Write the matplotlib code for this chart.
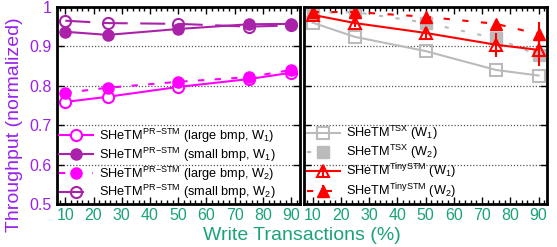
import matplotlib
matplotlib.use('Agg')
import matplotlib.pyplot as plt
import numpy as np

plt.rcParams['font.family'] = ['Liberation Sans', 'DejaVu Sans']
plt.rcParams['mathtext.fontset'] = 'custom'
plt.rcParams['mathtext.rm'] = 'Liberation Sans'

# write transactions (%)
x = [10, 25, 50, 75, 90]

# left panel: PR-STM variants
large_w1 = [0.759, 0.772, 0.797, 0.817, 0.833]
small_w1 = [0.937, 0.929, 0.944, 0.956, 0.957]
large_w2 = [0.782, 0.795, 0.810, 0.822, 0.840]
small_w2 = [0.965, 0.959, 0.957, 0.950, 0.953]

# right panel: TSX and TinySTM
tsx_w1 = [0.960, 0.924, 0.888, 0.840, 0.826]
tsx_w2 = [0.985, 0.987, 0.960, 0.920, 0.878]
tiny_w1 = [0.980, 0.959, 0.934, 0.904, 0.891]
tiny_w1_err = [0.008, 0.010, 0.012, 0.030, 0.040]
tiny_w2 = [0.987, 0.987, 0.975, 0.957, 0.931]
tiny_w2_err = [0.005, 0.006, 0.008, 0.010, 0.030]

yticks = [0.5, 0.6, 0.7, 0.8, 0.9, 1.0]
ytick_labels = ['0.5', '0.6', '0.7', '0.8', '0.9', '1']
xticks = [10, 20, 30, 40, 50, 60, 70, 80, 90]

magenta = '#ff00ff'
purple = '#aa22aa'
gray = '#bbbbbb'
red = '#ff0000'
label_purple = '#9922ee'
teal = '#1aa37a'

fig = plt.figure(figsize=(5.57, 2.47), dpi=100)
ax1 = fig.add_axes([0.102, 0.174, 0.436, 0.798])
ax2 = fig.add_axes([0.546, 0.174, 0.436, 0.798])

pr = r'SHeTM$^{\rm PR\!-\!STM}$'
ax1.plot(x, large_w1, color=magenta, lw=1.5, marker='o', ms=8, mfc='white', mec=magenta, mew=1.5,
         label=pr + r' (large bmp, W$_1$)')
ax1.plot(x, small_w1, color=purple, lw=1.5, marker='o', ms=8, mfc=purple, mec=purple,
         label=pr + r' (small bmp, W$_1$)')
ax1.plot(x, large_w2, color=magenta, lw=1.5, dashes=(3, 5), marker='o', ms=8, mfc=magenta, mec=magenta,
         label=pr + r' (large bmp, W$_2$)')
ax1.plot(x, small_w2, color=purple, lw=1.5, dashes=(12, 6), marker='o', ms=8, mfc='none', mec=purple, mew=1.5,
         label=pr + r' (small bmp, W$_2$)')

ax2.plot(x, tsx_w1, color=gray, lw=1.5, marker='s', ms=8, mfc='none', mec=gray, mew=1.5,
         label=r'SHeTM$^{\rm TSX}$ (W$_1$)')
ax2.plot(x, tsx_w2, color=gray, lw=1.5, dashes=(2, 6), marker='s', ms=8, mfc=gray, mec=gray,
         label=r'SHeTM$^{\rm TSX}$ (W$_2$)')
ax2.errorbar(x, tiny_w1, yerr=tiny_w1_err, color=red, lw=1.5, marker='^', ms=8, mfc='none', mec=red, mew=1.5,
             elinewidth=1.5, capsize=0, label=r'SHeTM$^{\rm TinySTM}$ (W$_1$)')
ax2.errorbar(x, tiny_w2, yerr=tiny_w2_err, color=red, lw=1.5, dashes=(3, 6), marker='^', ms=8, mfc=red, mec=red,
             elinewidth=1.5, capsize=0, label=r'SHeTM$^{\rm TinySTM}$ (W$_2$)')

for ax in [ax1, ax2]:
    ax.set_xlim(7, 93)
    ax.set_ylim(0.5, 1.0)
    ax.set_xticks(xticks)
    ax.set_xticks(np.arange(8, 93, 2), minor=True)
    ax.set_yticks(yticks)
    ax.tick_params(axis='both', which='both', direction='in', top=True, right=True)
    ax.tick_params(axis='x', which='major', length=5, width=1, colors='black', labelcolor=teal, labelsize=11.5, pad=3)
    ax.tick_params(axis='x', which='minor', length=3, width=1)
    ax.tick_params(axis='y', which='major', length=5, width=1)
    ax.grid(axis='y', color='#555555', linestyle=(0, (1, 1.5)), linewidth=0.9)
    for s in ax.spines.values():
        s.set_linewidth(2)
    ax.legend(loc='lower left', frameon=False, fontsize=9.2, handlelength=2.6, handletextpad=0.5,
              labelspacing=0.05, borderaxespad=0.0, borderpad=0.2)

ax1.set_yticklabels(ytick_labels)
ax1.tick_params(axis='y', labelcolor=label_purple, labelsize=11.5)
ax2.set_yticklabels([])
ax1.set_ylabel('Throughput (normalized)', color=label_purple, fontsize=14)
ax1.yaxis.set_label_coords(-0.14, 0.40)
fig.text(0.542, 0.03, 'Write Transactions (%)', color=teal, fontsize=14, ha='center')

fig.savefig('out.png', dpi=100)
